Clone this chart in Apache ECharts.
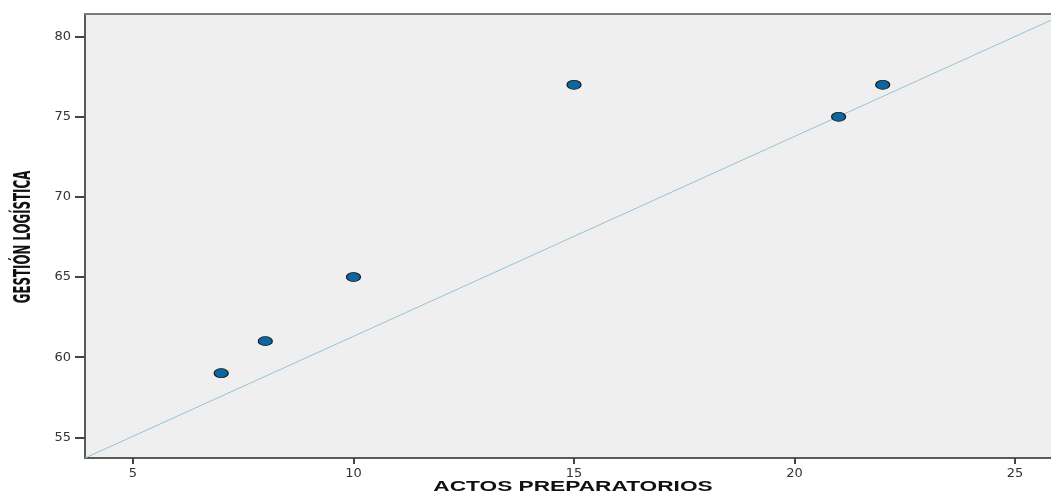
<!DOCTYPE html>
<html>
<head>
<meta charset="utf-8">
<script src="https://cdn.jsdelivr.net/npm/echarts@6/dist/echarts.min.js"></script>
<style>
html,body{margin:0;padding:0;background:#fff;}
#chart{width:1051px;height:503px;}
</style>
</head>
<body>
<div id="chart"></div>
<script>
// Data
const xValues = [7, 8, 10, 15, 21, 22];          // ACTOS PREPARATORIOS
const yValues = [59, 61, 65, 77, 75, 77];        // GESTIÓN LOGÍSTICA
const refLineX = [3.912, 25.816];
const refLineY = [53.708, 81.03];
const xTicks = [5, 10, 15, 20, 25];
const yTicks = [55, 60, 65, 70, 75, 80];
const xTitle = 'ACTOS PREPARATORIOS';
const yTitle = 'GESTIÓN LOGÍSTICA';

const points = xValues.map((x, i) => [x, yValues[i]]);
const linePts = refLineX.map((x, i) => [x, refLineY[i]]);

const X_MIN = 3.912, X_MAX = 25.816;

const chart = echarts.init(document.getElementById('chart'), null, {renderer: 'canvas'});
chart.setOption({
  animation: false,
  backgroundColor: '#ffffff',
  grid: {
    left: 85, top: 14, right: 0, bottom: 45,
    show: true, backgroundColor: '#efefef', borderWidth: 0
  },
  xAxis: [{
    type: 'value', min: X_MIN, max: X_MAX, interval: 5,
    axisLine: {show: true, lineStyle: {color: '#5a5a5a', width: 2}},
    axisTick: {show: true, length: 6, lineStyle: {color: '#444', width: 2},
      customValues: xTicks},
    axisLabel: {customValues: xTicks, margin: 9, fontFamily: 'DejaVu Sans', fontSize: 13, color: '#333'},
    splitLine: {show: false}
  }, {
    type: 'value', position: 'top', min: X_MIN, max: X_MAX,
    axisLine: {show: true, onZero: false, lineStyle: {color: '#7a7a7a', width: 2}},
    axisTick: {show: false}, axisLabel: {show: false}, splitLine: {show: false}
  }],
  yAxis: {
    type: 'value', min: 53.708, max: 81.417, interval: 5,
    axisLine: {show: true, lineStyle: {color: '#5a5a5a', width: 2}},
    axisTick: {show: true, length: 10, lineStyle: {color: '#444', width: 2},
      customValues: yTicks},
    axisLabel: {customValues: yTicks, margin: 14, fontFamily: 'DejaVu Sans', fontSize: 13, color: '#333'},
    splitLine: {show: false}
  },
  graphic: [
    {type: 'text', x: 573, y: 487, scaleX: 1.62,
      style: {text: xTitle, font: 'bold 14px "Liberation Sans", Arial, sans-serif', fill: '#111',
        textAlign: 'center', textVerticalAlign: 'middle'}},
    {type: 'text', x: 24, y: 237, rotation: Math.PI / 2, scaleX: 0.82, scaleY: 1.45,
      style: {text: yTitle, font: 'bold 16px "Liberation Sans Narrow", "DejaVu Sans Condensed", sans-serif', fill: '#111',
        textAlign: 'center', textVerticalAlign: 'middle'}}
  ],
  series: [
    {
      type: 'line', data: linePts, symbol: 'none', silent: true,
      lineStyle: {color: '#98c1d6', width: 1}, z: 2
    },
    {
      type: 'scatter', data: points, symbol: 'circle', symbolSize: [14, 9],
      itemStyle: {color: '#0d66a0', borderColor: '#1a1a1a', borderWidth: 1, opacity: 1}, z: 3
    }
  ]
});
</script>
</body>
</html>
